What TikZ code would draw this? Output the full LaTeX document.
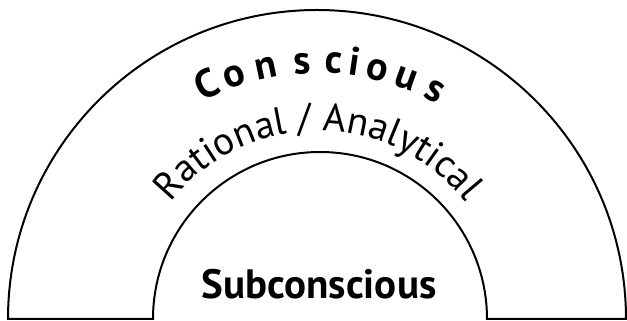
\documentclass[tikz,border=0pt]{standalone}
\usepackage{fontspec}
\setmainfont{PT Sans}
\usetikzlibrary{decorations.text,calc}

\tikzset{
  rim/.style={black, line width=2pt, line join=miter},
  letter/.style={anchor=base, inner sep=0pt, font=\fontsize{40}{40}\bfseries},
}

\begin{document}
\begin{tikzpicture}[x=1pt,y=1pt]
  \useasboundingbox (0,0) rectangle (627,321);
  \coordinate (c) at (318,2);
  % the two rims and the floor
  \draw[rim] (8,2) arc[start angle=180,end angle=0,radius=309pt] -- (487,2)
             arc[start angle=0,end angle=180,radius=167pt] -- cycle;
  % spaced out word on the outer band
  \foreach \a/\l in {115.5/C,109/o,101.8/n,93.6/s,86.5/c,81.8/i,76.6/o,70/u,62.8/s}
    \node[letter, rotate=\a-90] at ($(c)+(\a:246pt)$) {\l};
  \path[decorate, decoration={text along path, text align=center,
        text={|\fontsize{39}{39}\selectfont|Rational / Analytical}}]
    ($(c)+(180:188pt)$) arc[start angle=180,end angle=0,radius=188pt];
  \node[font=\fontsize{41}{41}\bfseries\selectfont, anchor=base, inner sep=0pt] (sub) at (319,22) {Subconscious};
\end{tikzpicture}
\end{document}
